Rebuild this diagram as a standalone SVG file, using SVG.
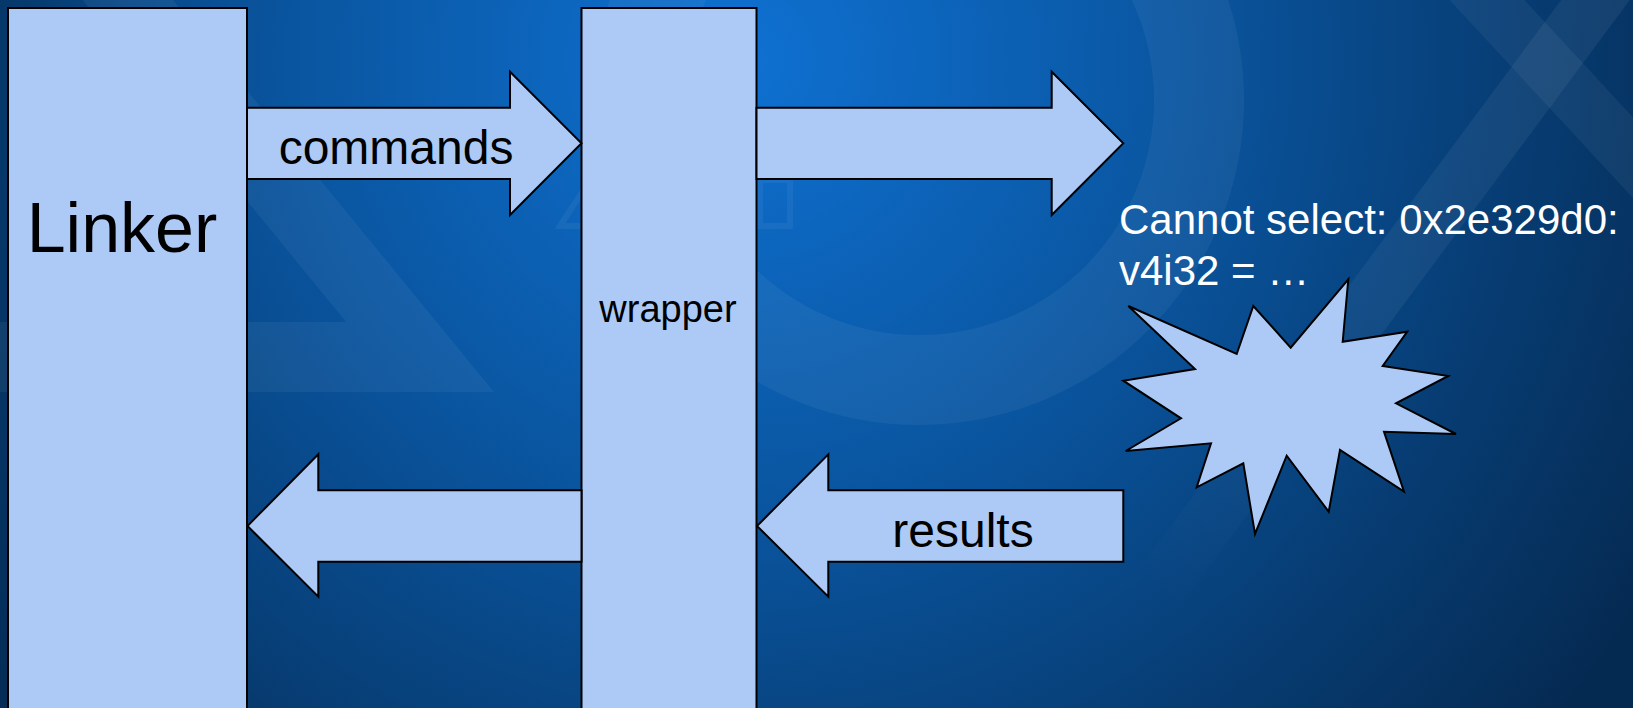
<svg xmlns="http://www.w3.org/2000/svg" width="1633" height="708" viewBox="0 0 1633 708">
<defs>
<radialGradient id="bg" cx="740" cy="60" r="1050" gradientUnits="userSpaceOnUse">
<stop offset="0" stop-color="#0f71d2"/>
<stop offset="0.4" stop-color="#0a57a3"/>
<stop offset="0.75" stop-color="#073c72"/>
<stop offset="1" stop-color="#052a52"/>
</radialGradient>
<linearGradient id="shade" x1="0" y1="0" x2="1" y2="0">
<stop offset="0" stop-color="#04284f" stop-opacity="0.35"/>
<stop offset="0.08" stop-color="#04284f" stop-opacity="0"/>
<stop offset="1" stop-color="#04284f" stop-opacity="0"/>
</linearGradient>
<linearGradient id="xfade" gradientUnits="userSpaceOnUse" x1="1640" y1="-60" x2="1150" y2="600">
<stop offset="0" stop-color="#fff" stop-opacity="0.06"/>
<stop offset="0.6" stop-color="#fff" stop-opacity="0.05"/>
<stop offset="1" stop-color="#fff" stop-opacity="0"/>
</linearGradient>
<style>
.shape{fill:#adcaf7;stroke:#000;stroke-width:2;stroke-linejoin:miter}
.lbl{font-family:"Liberation Sans",Arial,sans-serif;fill:#000}
.deco{fill:none;stroke:#ffffff;stroke-opacity:0.05}
.note{font-family:"Liberation Sans",Arial,sans-serif;fill:#fff;font-size:42px}
</style>
</defs>
<rect width="1633" height="708" fill="url(#bg)"/>
<rect width="1633" height="708" fill="url(#shade)"/>
<g id="background-deco">
<path class="deco" stroke-width="70" d="M95,-40 L420,357 L-200,357"/>
<circle class="deco" cx="919" cy="100" r="280" stroke-width="90"/>
<path class="deco" stroke-width="55" d="M1450,-40 L1700,230"/>
<path fill="none" stroke="url(#xfade)" stroke-width="55" d="M1640,-60 L1150,600"/>
<path class="deco" stroke-width="6" d="M560,226 L590,180 L610,226 Z M760,180 L790,180 L790,226 L760,226 Z"/>
</g>
<g id="linker">
<rect class="shape" x="8" y="8" width="239" height="720"/>
<text class="lbl" x="122" y="252" font-size="70" text-anchor="middle">Linker</text>
</g>
<g id="wrapper">
<rect class="shape" x="581.5" y="8" width="175" height="720"/>
<text class="lbl" x="668" y="322" font-size="38" text-anchor="middle">wrapper</text>
</g>
<g id="connectors">
<g id="commands-arrow">
<path class="shape" d="M247,107.7 L510,107.7 L510,71.7 L581.5,143.3 L510,215 L510,179 L247,179 Z"/>
<text class="lbl" x="396" y="164" font-size="48" text-anchor="middle">commands</text>
</g>
<g id="out-arrow">
<path class="shape" d="M756.5,107.7 L1051.7,107.7 L1051.7,71.7 L1123.3,143.3 L1051.7,215 L1051.7,179 L756.5,179 Z"/>
</g>
<g id="return-arrow">
<path class="shape" d="M581.5,490.3 L318.3,490.3 L318.3,454.3 L247.5,526 L318.3,596.7 L318.3,561.7 L581.5,561.7 Z"/>
</g>
<g id="results-arrow">
<path class="shape" d="M1123.3,490.3 L828.3,490.3 L828.3,454.3 L757,526 L828.3,596.7 L828.3,561.7 L1123.3,561.7 Z"/>
<text class="lbl" x="963" y="546.7" font-size="48" text-anchor="middle">results</text>
</g>
</g>
<g id="error-burst">
<polygon class="shape" points="1128.3,306 1236.7,354 1253.3,306 1290.7,347.7 1348.3,279.3 1342.7,341.7 1407.3,331.7 1382.7,366 1448.3,376 1396,403.3 1456,434 1384,431.7 1404,491.7 1340,450 1328.7,511.7 1286.7,455.7 1255,534 1243.3,463.3 1196.7,487.3 1211,443.3 1125.7,451 1181,418.3 1123.3,380.7 1195,369"/>
</g>
<g id="error-text">
<text class="note" x="1119" y="234.3">Cannot select: 0x2e329d0:</text>
<text class="note" x="1119" y="285">v4i32 = …</text>
</g>
</svg>
